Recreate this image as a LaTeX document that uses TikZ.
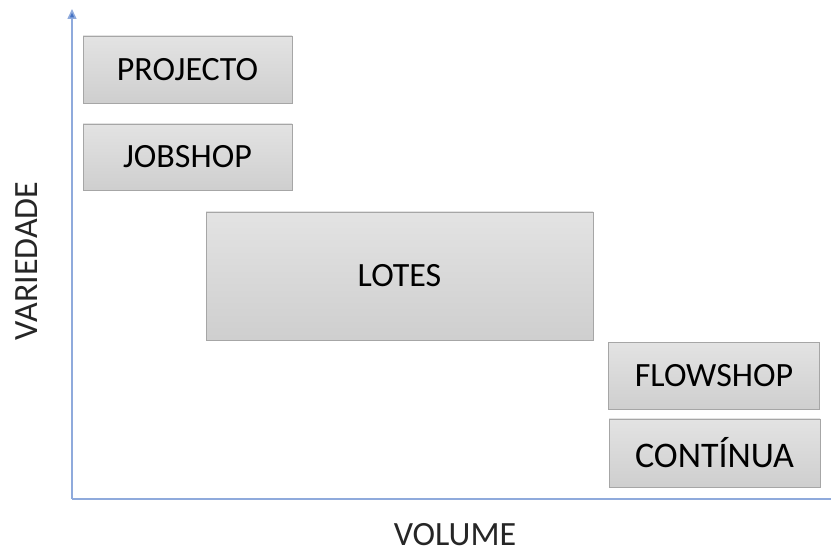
\documentclass[tikz,border=0pt]{standalone}
\usepackage{fontspec}
\setmainfont{Carlito}
\usepackage{tikz}
\usetikzlibrary{positioning,arrows.meta}

\definecolor{axisblue}{HTML}{8FAADC}
\definecolor{tipblue}{HTML}{4472C4}
\definecolor{boxedge}{HTML}{A6A6A6}

\begin{document}
\begin{tikzpicture}[
  x=1pt, y=-1pt,
  axis/.style={line width=1.5pt, axisblue},
  vaxis/.style={axis, -{Triangle[length=10pt, width=9pt, fill=tipblue]}},
  cls/.style={draw=boxedge, line width=0.8pt, top color=gray!22, bottom color=gray!38,
    inner sep=0pt, font=\fontsize{34}{40}\selectfont},
  lab/.style={font=\fontsize{34}{40}\selectfont, text=black!85}
]
  \useasboundingbox (0,0) rectangle (831,553);

  % --- axes -------------------------------------------------------------
  \coordinate (orig) at (72,499);
  \coordinate (ytop) at (72,9);
  \coordinate (xend) at (831,499);
  \draw[vaxis] (orig) -- (ytop);
  \draw[axis] (orig) -- (xend);

  \node[lab, rotate=90] (variedade) at (27,261) {VARIEDADE};
  \node[lab, anchor=base, inner sep=0pt] (volume) at (455,546) {VOLUME};

  % --- process types ------------------------------------------------------
  \node[cls, minimum width=209pt, minimum height=67pt] (projecto) at (187.5,69.5) {PROJECTO};
  \node[cls, minimum width=209pt, minimum height=66pt] (jobshop) at (187.5,157) {JOBSHOP};
  \node[cls, minimum width=387pt, minimum height=128pt] (lotes) at (399.5,276) {LOTES};
  \node[cls, minimum width=211pt, minimum height=67pt] (flowshop) at (714,376) {FLOWSHOP};
  \node[cls, minimum width=211pt, minimum height=68pt,
    font=\fontsize{36}{40}\selectfont] (continua) at (714.5,453) {CONTÍNUA};
\end{tikzpicture}
\end{document}
